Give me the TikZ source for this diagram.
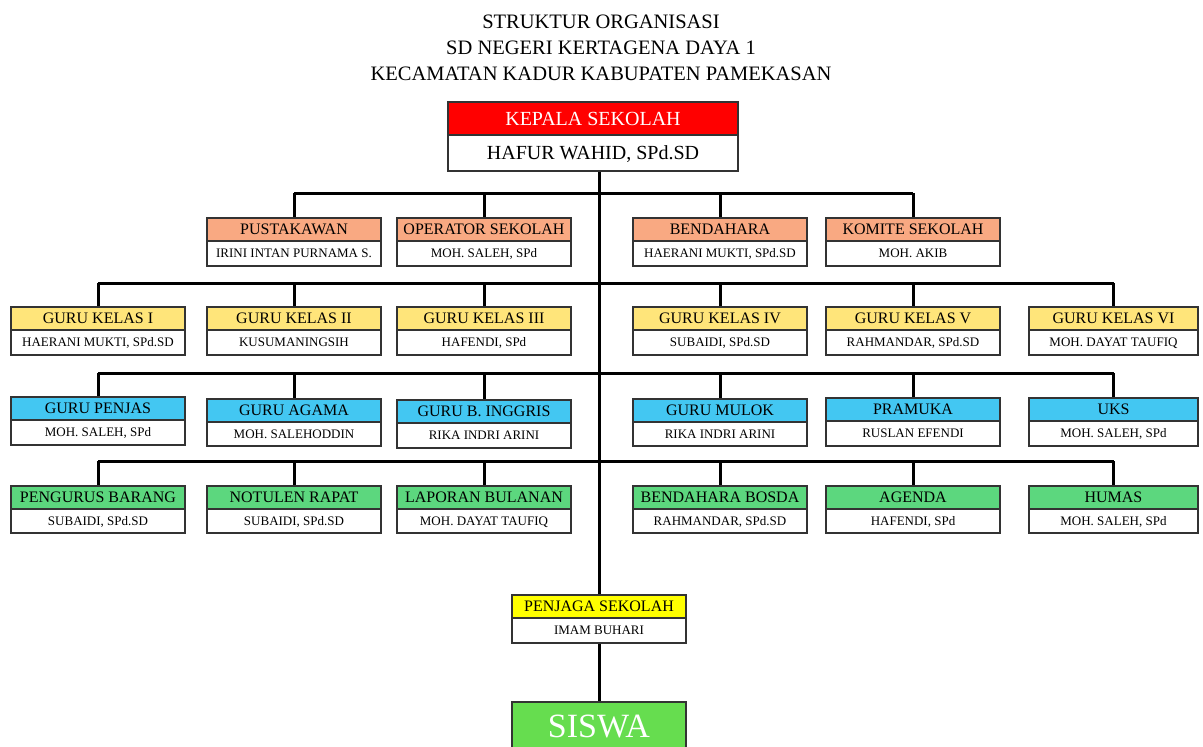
\documentclass[tikz,border=0pt]{standalone}
\usepackage{fontspec}
\setmainfont{Liberation Serif}
\usetikzlibrary{backgrounds}
\definecolor{cRed}{HTML}{FF0000}
\definecolor{cOrange}{HTML}{F9A982}
\definecolor{cYellow}{HTML}{FFE57A}
\definecolor{cBlue}{HTML}{43C7F2}
\definecolor{cGreen}{HTML}{5CD77E}
\definecolor{cPenjaga}{HTML}{FFFF00}
\definecolor{cSiswa}{HTML}{66DD4F}
\definecolor{cBorder}{HTML}{333333}
\tikzset{
  boxbase/.style={draw=cBorder, line width=1.5pt, inner sep=0pt, outer sep=0pt, anchor=north west, align=center, text depth=0pt},
  hdr/.style={boxbase, font=\fontsize{16}{16}\selectfont, text height=10.6pt},
  nm/.style={boxbase, fill=white, font=\fontsize{13}{13}\selectfont, text height=8.6pt},
  bigtext/.style={font=\fontsize{20}{20}\selectfont, text height=13.2pt},
  conn/.style={line width=3pt, black},
  titletext/.style={font=\fontsize{20.5}{20.5}\selectfont, inner sep=0pt}
}
% name, x1, x2, ytop, ymid, ybot, fill, header, person
\newcommand\orgbox[9]{%
  \node[hdr, fill=#7, minimum width=#3-#2, minimum height=#5-#4] (#1-h) at (#2,#4) {#8};
  \node[nm, minimum width=#3-#2, minimum height=#6-#5] (#1-n) at (#2,#5) {#9};
}
\begin{document}
\begin{tikzpicture}[x=1pt,y=-1pt]
\useasboundingbox (0,0) rectangle (1203,747);

% title
\node[titletext] (t1) at (601,22) {STRUKTUR ORGANISASI};
\node[titletext] (t2) at (601,48) {SD NEGERI KERTAGENA DAYA 1};
\node[titletext] (t3) at (601,74) {KECAMATAN KADUR KABUPATEN PAMEKASAN};

% bus levels
\coordinate (bus1) at (598,193);
\coordinate (bus2) at (598,283);
\coordinate (bus3) at (598,373);
\coordinate (bus4) at (598,461);

% Kepala
\node[boxbase, bigtext, fill=cRed, text=white, minimum width=290, minimum height=33] (kep-h) at (448,102) {KEPALA SEKOLAH};
\node[boxbase, bigtext, fill=white, minimum width=290, minimum height=36] (kep-n) at (448,135) {HAFUR WAHID, SPd.SD};

% row 1
\orgbox{pus}{207}{381}{218}{241}{266}{cOrange}{PUSTAKAWAN}{IRINI INTAN PURNAMA S.}
\orgbox{ops}{397}{571}{218}{241}{266}{cOrange}{OPERATOR SEKOLAH}{MOH. SALEH, SPd}
\orgbox{ben}{633}{807}{218}{241}{266}{cOrange}{BENDAHARA}{HAERANI MUKTI, SPd.SD}
\orgbox{kom}{826}{1000}{218}{241}{266}{cOrange}{KOMITE SEKOLAH}{MOH. AKIB}

% row 2
\orgbox{gk1}{11}{185}{307}{330}{355}{cYellow}{GURU KELAS I}{HAERANI MUKTI, SPd.SD}
\orgbox{gk2}{207}{381}{307}{330}{355}{cYellow}{GURU KELAS II}{KUSUMANINGSIH}
\orgbox{gk3}{397}{571}{307}{330}{355}{cYellow}{GURU KELAS III}{HAFENDI, SPd}
\orgbox{gk4}{633}{807}{307}{330}{355}{cYellow}{GURU KELAS IV}{SUBAIDI, SPd.SD}
\orgbox{gk5}{826}{1000}{307}{330}{355}{cYellow}{GURU KELAS V}{RAHMANDAR, SPd.SD}
\orgbox{gk6}{1029}{1198}{307}{330}{355}{cYellow}{GURU KELAS VI}{MOH. DAYAT TAUFIQ}

% row 3
\orgbox{gpj}{11}{185}{397}{420}{445}{cBlue}{GURU PENJAS}{MOH. SALEH, SPd}
\orgbox{gag}{207}{381}{399}{422}{446}{cBlue}{GURU AGAMA}{MOH. SALEHODDIN}
\orgbox{gbi}{397}{571}{400}{423}{448}{cBlue}{GURU B. INGGRIS}{RIKA INDRI ARINI}
\orgbox{gml}{633}{807}{399}{422}{446}{cBlue}{GURU MULOK}{RIKA INDRI ARINI}
\orgbox{prm}{826}{1000}{398}{421}{446}{cBlue}{PRAMUKA}{RUSLAN EFENDI}
\orgbox{uks}{1029}{1198}{398}{421}{446}{cBlue}{UKS}{MOH. SALEH, SPd}

% row 4
\orgbox{pgb}{11}{185}{486}{509}{533}{cGreen}{PENGURUS BARANG}{SUBAIDI, SPd.SD}
\orgbox{ntr}{207}{381}{486}{509}{533}{cGreen}{NOTULEN RAPAT}{SUBAIDI, SPd.SD}
\orgbox{lpb}{397}{571}{486}{509}{533}{cGreen}{LAPORAN BULANAN}{MOH. DAYAT TAUFIQ}
\orgbox{bbs}{633}{807}{486}{509}{533}{cGreen}{BENDAHARA BOSDA}{RAHMANDAR, SPd.SD}
\orgbox{agd}{826}{1000}{486}{509}{533}{cGreen}{AGENDA}{HAFENDI, SPd}
\orgbox{hms}{1029}{1198}{486}{509}{533}{cGreen}{HUMAS}{MOH. SALEH, SPd}

% penjaga
\orgbox{pjg}{512}{686}{595}{618}{643}{cPenjaga}{PENJAGA SEKOLAH}{IMAM BUHARI}

% siswa
\node[boxbase, fill=cSiswa, text=white, font=\fontsize{34}{34}\selectfont, text height=22.4pt, minimum width=174, minimum height=48] (sis) at (512,702) {SISWA};

% connectors
\begin{scope}[on background layer]
  % trunk
  \draw[conn] (kep-n.south -| pjg-h.north) -- (pjg-h.north);
  \draw[conn] (pjg-n.south) -- (sis.north);
  % row 1
  \draw[conn] (pus-h.north |- bus1) -- (kom-h.north |- bus1);
  \foreach \b in {pus,ops,ben,kom} \draw[conn] (\b-h.north) -- (\b-h.north |- bus1);
  % row 2
  \draw[conn] (gk1-h.north |- bus2) -- (gk6-h.north |- bus2);
  \foreach \b in {gk1,gk2,gk3,gk4,gk5,gk6} \draw[conn] (\b-h.north) -- (\b-h.north |- bus2);
  % row 3
  \draw[conn] (gpj-h.north |- bus3) -- (uks-h.north |- bus3);
  \foreach \b in {gpj,gag,gbi,gml,prm,uks} \draw[conn] (\b-h.north) -- (\b-h.north |- bus3);
  % row 4
  \draw[conn] (pgb-h.north |- bus4) -- (hms-h.north |- bus4);
  \foreach \b in {pgb,ntr,lpb,bbs,agd,hms} \draw[conn] (\b-h.north) -- (\b-h.north |- bus4);
\end{scope}
\end{tikzpicture}
\end{document}
